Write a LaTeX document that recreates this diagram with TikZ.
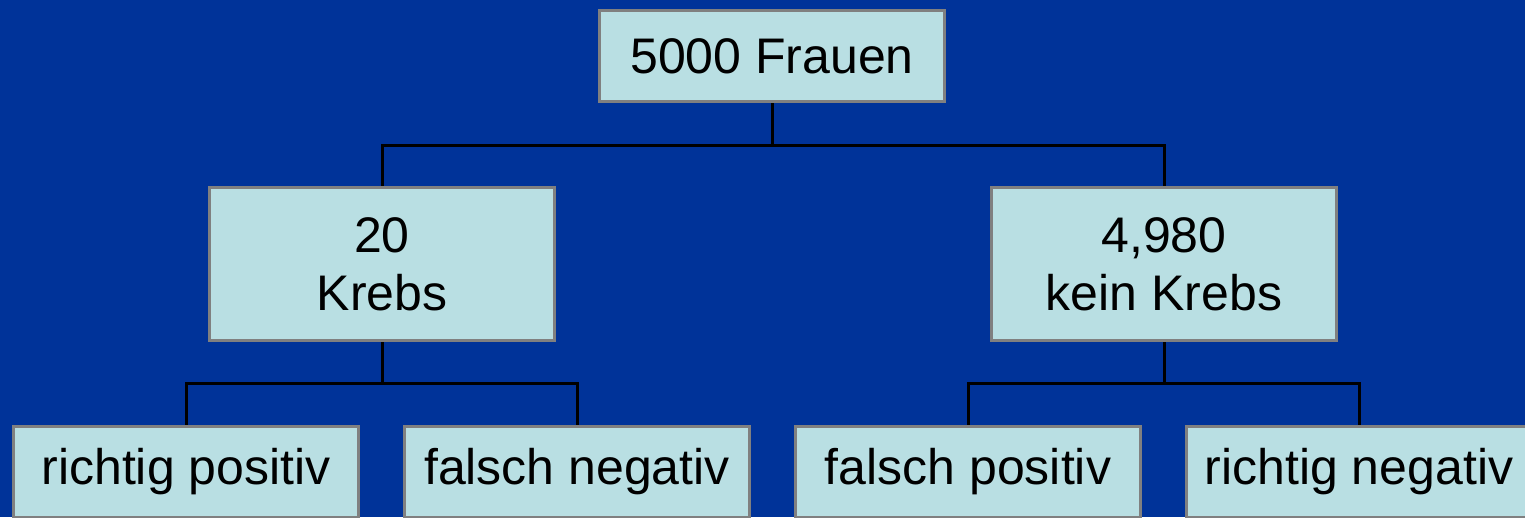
\documentclass[tikz,border=0pt]{standalone}
\usepackage{fontspec}
\setmainfont{Liberation Sans}
\definecolor{bgblue}{HTML}{003399}
\definecolor{boxfill}{HTML}{B9DFE3}
\definecolor{boxline}{HTML}{808080}
\begin{document}
\begin{tikzpicture}[x=1pt,y=-1pt,
  box/.style={draw=boxline,fill=boxfill,line width=3pt,minimum width=345pt,inner sep=0pt,align=center,
    font=\fontsize{50}{58}\selectfont},
  smallbox/.style={box,minimum height=91pt},
  bigbox/.style={box,minimum height=153pt},
  conn/.style={draw=black,line width=3pt}]
\useasboundingbox (0,0) rectangle (1525,517);
\clip (0,0) rectangle (1525,517);
\fill[bgblue] (0,0) rectangle (1525,517);
\node[smallbox] (top) at (772,56) {5000 Frauen};
\node[bigbox] (l) at (382,264) {20\\Krebs};
\node[bigbox] (r) at (1164,264) {4,980\\kein Krebs};
\node[smallbox] (ll) at (186,472) {richtig positiv};
\node[smallbox] (lr) at (577,472) {falsch negativ};
\node[smallbox] (rl) at (968,472) {falsch positiv};
\node[smallbox] (rr) at (1359,472) {richtig negativ};
\coordinate (j0) at (772,145);
\coordinate (j1) at (382,383);
\coordinate (j2) at (1164,383);
\draw[conn] (top.south) -- (j0) -| (l.north);
\draw[conn] (j0) -| (r.north);
\draw[conn] (l.south) -- (j1) -| (ll.north);
\draw[conn] (j1) -| (lr.north);
\draw[conn] (r.south) -- (j2) -| (rl.north);
\draw[conn] (j2) -| (rr.north);
\end{tikzpicture}
\end{document}
